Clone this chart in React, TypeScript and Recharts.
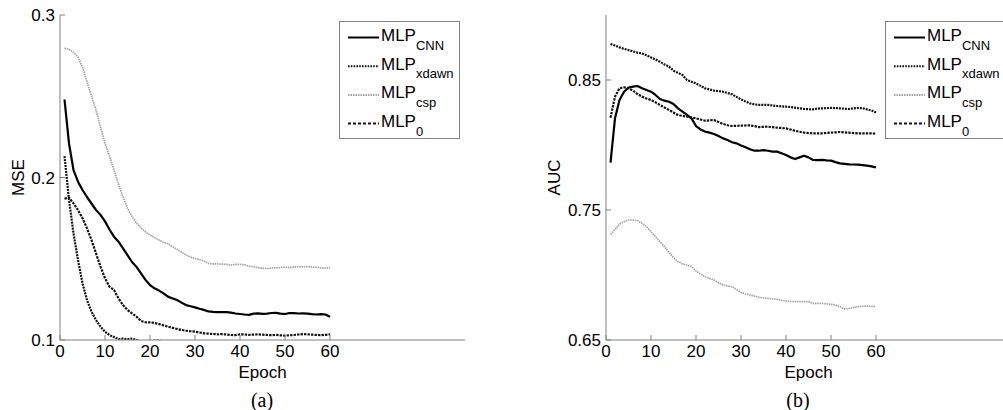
import React from 'react';
import { LineChart, Line, XAxis, YAxis, Legend } from 'recharts';

const epochs: number[] = Array.from({ length: 60 }, (_, i) => i + 1);
const xTicks = [0, 10, 20, 30, 40, 50, 60];
const mseTicks = [0.1, 0.2, 0.3];
const aucTicks = [0.65, 0.75, 0.85];

const seriesNames = ['CNN', 'xdawn', 'csp', '0'];

// (a) MSE
const mseCNN = [0.248,0.221,0.2046,0.1974,0.1923,0.188,0.184,0.180,0.177,0.173,0.168,0.1636,0.1605,0.1564,0.1523,0.148,0.145,0.141,0.137,0.1338,0.1318,0.1304,0.1287,0.1267,0.1256,0.1246,0.123,0.1215,0.1208,0.1201,0.1192,0.1185,0.1176,0.1173,0.1172,0.1171,0.1171,0.1168,0.1163,0.116,0.1157,0.1155,0.1162,0.1164,0.1161,0.1162,0.1166,0.1167,0.1162,0.116,0.1166,0.1165,0.1163,0.1164,0.1162,0.1159,0.1157,0.1159,0.1157,0.1143];
const mseXdawn = [0.2132,0.1862,0.1656,0.1492,0.1349,0.1246,0.1174,0.1123,0.1082,0.1051,0.103,0.1018,0.1006,0.1008,0.1005,0.1008,0.1,0.099,0.0985,0.099,0.0996,0.0998,0.099,0.098,0.0978,0.0975,0.0973,0.0972,0.097,0.0969,0.0968,0.0967,0.0966,0.0966,0.0965,0.0965,0.0964,0.0964,0.0963,0.0963,0.0963,0.0962,0.0962,0.0962,0.0961,0.0961,0.0961,0.096,0.096,0.096,0.096,0.0959,0.0959,0.0959,0.0959,0.0958,0.0958,0.0958,0.0958,0.0958];
const mseCsp = [0.2795,0.279,0.277,0.274,0.268,0.259,0.25,0.2415,0.231,0.221,0.213,0.2046,0.196,0.188,0.181,0.176,0.172,0.169,0.1665,0.1646,0.163,0.1615,0.16,0.1592,0.1574,0.1558,0.154,0.1523,0.151,0.1502,0.1495,0.1485,0.1472,0.1468,0.1468,0.1467,0.1465,0.1462,0.1465,0.1466,0.1462,0.1455,0.145,0.1446,0.1441,0.144,0.1443,0.1444,0.1446,0.1448,0.1445,0.145,0.1451,0.145,0.1452,0.1449,0.1447,0.1444,0.1441,0.1446];
const mse0 = [0.187,0.1876,0.1841,0.18,0.1749,0.1687,0.1615,0.1533,0.1451,0.138,0.1328,0.1308,0.1256,0.1215,0.1185,0.1164,0.1144,0.1117,0.1109,0.1109,0.1105,0.1098,0.109,0.1082,0.1075,0.1068,0.1062,0.1057,0.1054,0.1051,0.1046,0.1041,0.1039,0.1037,0.1035,0.1036,0.1034,0.1031,0.103,0.1035,0.1034,0.1032,0.1033,0.1035,0.1033,0.1031,0.103,0.1031,0.1029,0.1027,0.1029,0.1031,0.1034,0.1036,0.1035,0.1033,0.1031,0.103,0.1032,0.1035];

// (b) AUC
const aucCNN = [0.7864,0.8205,0.8346,0.841,0.8441,0.8449,0.8454,0.8436,0.8423,0.841,0.8385,0.8354,0.8341,0.8333,0.8315,0.8282,0.8256,0.8231,0.8205,0.8146,0.812,0.8103,0.8095,0.8085,0.8069,0.8051,0.8038,0.8021,0.8013,0.7997,0.7982,0.7967,0.7956,0.7956,0.796,0.7956,0.7949,0.7949,0.7936,0.7923,0.7905,0.7892,0.7905,0.7918,0.7905,0.7885,0.7884,0.7885,0.7882,0.788,0.7868,0.7859,0.7855,0.7851,0.785,0.7849,0.7845,0.7841,0.7836,0.7828];
const aucXdawn = [0.8777,0.8765,0.8751,0.874,0.873,0.872,0.871,0.8705,0.869,0.8674,0.8658,0.864,0.862,0.8603,0.8572,0.8555,0.8538,0.85,0.8487,0.8474,0.8455,0.8436,0.8427,0.8418,0.8414,0.841,0.84,0.839,0.837,0.8351,0.8335,0.832,0.8312,0.8308,0.8308,0.8308,0.8304,0.83,0.8297,0.8295,0.8292,0.8287,0.8282,0.8277,0.8275,0.8274,0.828,0.8282,0.8284,0.8285,0.8284,0.8282,0.8279,0.8277,0.8282,0.8285,0.8283,0.8274,0.8265,0.8251];
const aucCsp = [0.7313,0.7351,0.7392,0.741,0.7423,0.7423,0.7418,0.7397,0.7372,0.7333,0.7295,0.7256,0.7218,0.7172,0.7133,0.7103,0.7085,0.7077,0.7064,0.7031,0.7008,0.6987,0.6974,0.6962,0.6941,0.6923,0.6915,0.691,0.689,0.6867,0.6854,0.6846,0.6838,0.6828,0.6824,0.682,0.6817,0.6813,0.6806,0.68,0.6797,0.6795,0.6795,0.6795,0.6795,0.6782,0.6782,0.6782,0.6778,0.6774,0.6769,0.6756,0.6738,0.6743,0.6751,0.6756,0.6759,0.6762,0.6759,0.6756];
const auc0 = [0.821,0.8372,0.8436,0.8444,0.8436,0.8418,0.8392,0.8372,0.8358,0.8346,0.8328,0.8308,0.8288,0.8269,0.825,0.8231,0.8224,0.8218,0.8212,0.8205,0.8196,0.8187,0.819,0.8192,0.8177,0.8162,0.8152,0.8146,0.8148,0.8149,0.815,0.8151,0.8145,0.8138,0.814,0.8141,0.8137,0.8133,0.8131,0.8128,0.8119,0.811,0.8102,0.8095,0.8092,0.809,0.809,0.809,0.8093,0.8095,0.8097,0.81,0.8097,0.8095,0.8092,0.809,0.809,0.809,0.8089,0.8087];

const mseData = epochs.map((e, i) => ({ epoch: e, CNN: mseCNN[i], xdawn: mseXdawn[i], csp: mseCsp[i], zero: mse0[i] }));
const aucData = epochs.map((e, i) => ({ epoch: e, CNN: aucCNN[i], xdawn: aucXdawn[i], csp: aucCsp[i], zero: auc0[i] }));

const FRAME = '#808080';
const SANS = '"Liberation Sans", Arial, Helvetica, sans-serif';

const styles = [
  { key: 'CNN', stroke: '#000', width: 2.2, dash: undefined as string | undefined, legendDash: undefined as string | undefined },
  { key: 'xdawn', stroke: '#111', width: 2.2, dash: '2 1', legendDash: '1.6 1.2' },
  { key: 'csp', stroke: '#a2a2a2', width: 1.7, dash: '1.5 0.8', legendDash: '1.5 1' },
  { key: 'zero', stroke: '#111', width: 2.2, dash: '2.4 1.1', legendDash: '3 2' },
];

const LegendBox = () => (
  <svg width={121} height={118} style={{ display: 'block', background: '#fff', border: `1px solid ${FRAME}`, boxSizing: 'border-box' }}>
    {styles.map((s, i) => {
      const base = 19 + i * 28.7;
      return (
        <g key={s.key}>
          <line x1={8} x2={39} y1={base - 3.5} y2={base - 3.5} stroke={s.stroke} strokeWidth={2} strokeDasharray={s.legendDash} />
          <text x={41} y={base} fontFamily={SANS} fontSize={17} fill="#000">
            MLP<tspan dy={8.5} fontSize={13}>{seriesNames[i]}</tspan>
          </text>
        </g>
      );
    })}
  </svg>
);

const yLabel = (text: string, dx: number) => (props: any) => {
  const vb = props.viewBox || {};
  const cx = vb.x + dx;
  const cy = vb.y + vb.height / 2;
  return (
    <text x={cx} y={cy} transform={`rotate(-90, ${cx}, ${cy})`} textAnchor="middle" dominantBaseline="central" fontFamily={SANS} fontSize={17} fill="#000">
      {text}
    </text>
  );
};

type PanelProps = { data: any[]; domain: [number, number]; yTicks: number[]; yName: string; labelDx: number; fmt: (v: number) => string };

const Panel = ({ data, domain, yTicks, yName, labelDx, fmt }: PanelProps) => (
  <LineChart width={480} height={410} data={data} margin={{ top: 15, right: 15, bottom: 0, left: 0 }}>
    <XAxis
      dataKey="epoch" type="number" domain={[0, 90]} ticks={xTicks} allowDataOverflow
      height={70} tickSize={-5} tickMargin={10} interval={0}
      axisLine={{ stroke: FRAME }} tickLine={{ stroke: FRAME }}
      tick={{ fill: '#000', fontSize: 17, fontFamily: SANS }}
      label={{ value: 'Epoch', position: 'insideTop', offset: 26, fill: '#000', fontSize: 17, fontFamily: SANS }}
    />
    <XAxis
      xAxisId="top" orientation="top" dataKey="epoch" type="number" domain={[0, 90]} ticks={xTicks} allowDataOverflow
      height={0} tickSize={-5} interval={0} tickFormatter={() => ''}
      axisLine={{ stroke: FRAME }} tickLine={{ stroke: FRAME }}
    />
    <YAxis
      type="number" domain={domain} ticks={yTicks} allowDataOverflow
      width={60} tickSize={-5} tickMargin={10} interval={0} tickFormatter={fmt}
      axisLine={{ stroke: FRAME }} tickLine={{ stroke: FRAME }}
      tick={{ fill: '#000', fontSize: 17, fontFamily: SANS }}
      label={{ value: yName, content: yLabel(yName, labelDx) }}
    />
    <YAxis
      yAxisId="right" orientation="right" type="number" domain={domain} ticks={yTicks} allowDataOverflow
      width={0} tickSize={-5} interval={0} tickFormatter={() => ''}
      axisLine={{ stroke: FRAME }} tickLine={{ stroke: FRAME }}
    />
    {styles.map((s) => (
      <Line key={s.key} dataKey={s.key} type="linear" stroke={s.stroke} strokeWidth={s.width} strokeDasharray={s.dash}
        dot={false} activeDot={false} isAnimationActive={false} strokeLinejoin="round" />
    ))}
    <Legend layout="horizontal" verticalAlign="middle" align="center" content={() => <LegendBox />}
      wrapperStyle={{ left: 339, top: 21, width: 121, height: 118 }} />
  </LineChart>
);

const captionStyle: React.CSSProperties = {
  position: 'absolute', top: 390, width: 60, textAlign: 'center',
  fontFamily: '"Liberation Serif", "Times New Roman", serif', fontSize: 20, lineHeight: '20px', color: '#000',
};

export default function App() {
  return (
    <div style={{ position: 'absolute', left: 0, top: 0, width: 1003, height: 410, overflow: 'hidden', background: '#fff' }}>
      <div style={{ position: 'absolute', left: 0, top: 0 }}>
        <Panel data={mseData} domain={[0.1, 0.3]} yTicks={mseTicks} yName="MSE" labelDx={18} fmt={(v) => String(v)} />
      </div>
      <div style={{ position: 'absolute', left: 546, top: 0 }}>
        <Panel data={aucData} domain={[0.65, 0.9]} yTicks={aucTicks} yName="AUC" labelDx={8} fmt={(v) => v.toFixed(2)} />
      </div>
      <div style={{ ...captionStyle, left: 232 }}>(a)</div>
      <div style={{ ...captionStyle, left: 768 }}>(b)</div>
    </div>
  );
}
